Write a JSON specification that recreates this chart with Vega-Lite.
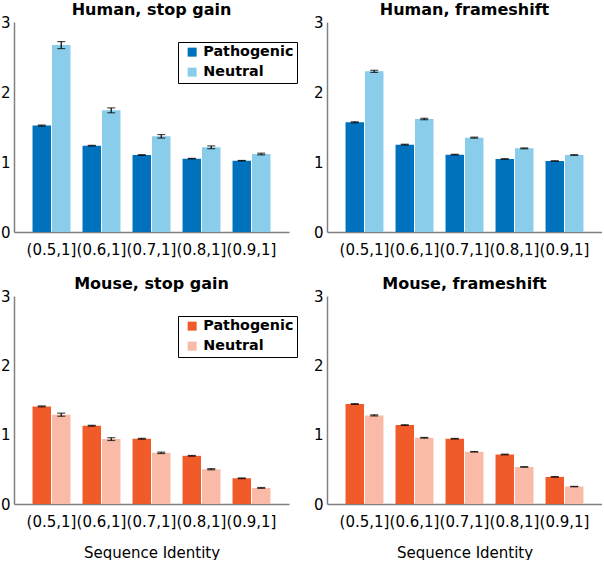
{
  "$schema": "https://vega.github.io/schema/vega-lite/v6.json",
  "padding": {"left": 0, "top": 2, "right": 0, "bottom": 0},
  "background": "white",
  "datasets": {
    "d": [
      {"panel": "hs", "cat": "(0.5,1]", "grp": "Pathogenic", "v": 1.52, "e": 0.008},
      {"panel": "hs", "cat": "(0.5,1]", "grp": "Neutral", "v": 2.67, "e": 0.05},
      {"panel": "hs", "cat": "(0.6,1]", "grp": "Pathogenic", "v": 1.233, "e": 0.005},
      {"panel": "hs", "cat": "(0.6,1]", "grp": "Neutral", "v": 1.738, "e": 0.035},
      {"panel": "hs", "cat": "(0.7,1]", "grp": "Pathogenic", "v": 1.10, "e": 0.005},
      {"panel": "hs", "cat": "(0.7,1]", "grp": "Neutral", "v": 1.367, "e": 0.025},
      {"panel": "hs", "cat": "(0.8,1]", "grp": "Pathogenic", "v": 1.048, "e": 0.004},
      {"panel": "hs", "cat": "(0.8,1]", "grp": "Neutral", "v": 1.21, "e": 0.02},
      {"panel": "hs", "cat": "(0.9,1]", "grp": "Pathogenic", "v": 1.019, "e": 0.003},
      {"panel": "hs", "cat": "(0.9,1]", "grp": "Neutral", "v": 1.114, "e": 0.012},

      {"panel": "hf", "cat": "(0.5,1]", "grp": "Pathogenic", "v": 1.567, "e": 0.008},
      {"panel": "hf", "cat": "(0.5,1]", "grp": "Neutral", "v": 2.295, "e": 0.015},
      {"panel": "hf", "cat": "(0.6,1]", "grp": "Pathogenic", "v": 1.248, "e": 0.006},
      {"panel": "hf", "cat": "(0.6,1]", "grp": "Neutral", "v": 1.614, "e": 0.01},
      {"panel": "hf", "cat": "(0.7,1]", "grp": "Pathogenic", "v": 1.105, "e": 0.005},
      {"panel": "hf", "cat": "(0.7,1]", "grp": "Neutral", "v": 1.348, "e": 0.007},
      {"panel": "hf", "cat": "(0.8,1]", "grp": "Pathogenic", "v": 1.043, "e": 0.004},
      {"panel": "hf", "cat": "(0.8,1]", "grp": "Neutral", "v": 1.195, "e": 0.006},
      {"panel": "hf", "cat": "(0.9,1]", "grp": "Pathogenic", "v": 1.014, "e": 0.003},
      {"panel": "hf", "cat": "(0.9,1]", "grp": "Neutral", "v": 1.10, "e": 0.005},

      {"panel": "ms", "cat": "(0.5,1]", "grp": "Pathogenic", "v": 1.408, "e": 0.007},
      {"panel": "ms", "cat": "(0.5,1]", "grp": "Neutral", "v": 1.288, "e": 0.022},
      {"panel": "ms", "cat": "(0.6,1]", "grp": "Pathogenic", "v": 1.129, "e": 0.006},
      {"panel": "ms", "cat": "(0.6,1]", "grp": "Neutral", "v": 0.936, "e": 0.02},
      {"panel": "ms", "cat": "(0.7,1]", "grp": "Pathogenic", "v": 0.941, "e": 0.006},
      {"panel": "ms", "cat": "(0.7,1]", "grp": "Neutral", "v": 0.738, "e": 0.01},
      {"panel": "ms", "cat": "(0.8,1]", "grp": "Pathogenic", "v": 0.695, "e": 0.005},
      {"panel": "ms", "cat": "(0.8,1]", "grp": "Neutral", "v": 0.502, "e": 0.008},
      {"panel": "ms", "cat": "(0.9,1]", "grp": "Pathogenic", "v": 0.371, "e": 0.005},
      {"panel": "ms", "cat": "(0.9,1]", "grp": "Neutral", "v": 0.232, "e": 0.006},

      {"panel": "mf", "cat": "(0.5,1]", "grp": "Pathogenic", "v": 1.442, "e": 0.006},
      {"panel": "mf", "cat": "(0.5,1]", "grp": "Neutral", "v": 1.278, "e": 0.008},
      {"panel": "mf", "cat": "(0.6,1]", "grp": "Pathogenic", "v": 1.138, "e": 0.005},
      {"panel": "mf", "cat": "(0.6,1]", "grp": "Neutral", "v": 0.955, "e": 0.005},
      {"panel": "mf", "cat": "(0.7,1]", "grp": "Pathogenic", "v": 0.941, "e": 0.005},
      {"panel": "mf", "cat": "(0.7,1]", "grp": "Neutral", "v": 0.753, "e": 0.004},
      {"panel": "mf", "cat": "(0.8,1]", "grp": "Pathogenic", "v": 0.714, "e": 0.005},
      {"panel": "mf", "cat": "(0.8,1]", "grp": "Neutral", "v": 0.535, "e": 0.004},
      {"panel": "mf", "cat": "(0.9,1]", "grp": "Pathogenic", "v": 0.391, "e": 0.004},
      {"panel": "mf", "cat": "(0.9,1]", "grp": "Neutral", "v": 0.251, "e": 0.003}
    ]
  },
  "data": {"name": "d"},
  "config": {
    "font": "DejaVu Sans",
    "view": {"stroke": null},
    "axis": {
      "grid": false,
      "ticks": false,
      "domainColor": "#808080",
      "domainWidth": 1.5,
      "labelFont": "DejaVu Sans",
      "labelFontSize": 15,
      "labelColor": "#000000",
      "titleFont": "DejaVu Sans",
      "titleFontSize": 15,
      "titleFontWeight": "normal",
      "titleColor": "#000000"
    },
    "title": {"font": "DejaVu Sans", "fontSize": 16, "fontWeight": "bold", "color": "#000000", "offset": -3, "anchor": "middle"},
    "legend": {
      "orient": "none",
      "legendX": 164,
      "legendY": 20,
      "strokeColor": "#000000",
      "fillColor": "#ffffff",
      "padding": 3,
      "symbolOffset": 4,
      "symbolType": "square",
      "symbolSize": 81,
      "symbolStrokeWidth": 0,
      "labelFont": "DejaVu Sans",
      "labelFontSize": 14.3,
      "labelFontWeight": "bold",
      "labelColor": "#000000",
      "labelOffset": 4,
      "rowPadding": 5,
      "title": null
    }
  },
  "resolve": {"scale": {"color": "independent", "x": "independent", "y": "independent"}, "legend": {"color": "independent"}},
  "spacing": 19,
  "vconcat": [
    {
      "spacing": 15,
      "resolve": {"scale": {"color": "independent", "x": "independent", "y": "independent"}, "legend": {"color": "independent"}},
      "hconcat": [
        {
          "width": 275, "height": 210,
          "title": "Human, stop gain",
          "transform": [{"filter": "datum.panel === 'hs'"}],
          "encoding": {
            "x": {"field": "cat", "type": "nominal", "sort": null, "scale": {"paddingInner": 0, "paddingOuter": 0.25}, "axis": {"title": null, "labelAngle": 0, "labelPadding": 10}},
            "xOffset": {"field": "grp", "type": "nominal", "sort": ["Pathogenic", "Neutral"], "scale": {"paddingInner": 0.05, "paddingOuter": 0.31}},
            "y": {"field": "v", "type": "quantitative", "scale": {"domain": [0, 3], "nice": false}, "axis": {"title": null, "values": [0, 1, 2, 3], "format": "d", "labelPadding": 4}}
          },
          "layer": [
            {"mark": {"type": "bar"}, "encoding": {"color": {"field": "grp", "type": "nominal", "sort": ["Pathogenic", "Neutral"], "scale": {"domain": ["Pathogenic", "Neutral"], "range": ["#0072BD", "#89CDEB"]}}}},
            {"mark": {"type": "errorbar", "color": "#000000", "thickness": 1.2, "ticks": {"size": 8, "thickness": 1.2}}, "encoding": {"yError": {"field": "e"}}}
          ]
        },
        {
          "width": 275, "height": 210,
          "title": "Human, frameshift",
          "transform": [{"filter": "datum.panel === 'hf'"}],
          "encoding": {
            "x": {"field": "cat", "type": "nominal", "sort": null, "scale": {"paddingInner": 0, "paddingOuter": 0.25}, "axis": {"title": null, "labelAngle": 0, "labelPadding": 10}},
            "xOffset": {"field": "grp", "type": "nominal", "sort": ["Pathogenic", "Neutral"], "scale": {"paddingInner": 0.05, "paddingOuter": 0.31}},
            "y": {"field": "v", "type": "quantitative", "scale": {"domain": [0, 3], "nice": false}, "axis": {"title": null, "values": [0, 1, 2, 3], "format": "d", "labelPadding": 4}}
          },
          "layer": [
            {"mark": {"type": "bar"}, "encoding": {"color": {"field": "grp", "type": "nominal", "sort": ["Pathogenic", "Neutral"], "scale": {"domain": ["Pathogenic", "Neutral"], "range": ["#0072BD", "#89CDEB"]}, "legend": null}}},
            {"mark": {"type": "errorbar", "color": "#000000", "thickness": 1.2, "ticks": {"size": 8, "thickness": 1.2}}, "encoding": {"yError": {"field": "e"}}}
          ]
        }
      ]
    },
    {
      "spacing": 15,
      "resolve": {"scale": {"color": "independent", "x": "independent", "y": "independent"}, "legend": {"color": "independent"}},
      "hconcat": [
        {
          "width": 275, "height": 208,
          "title": "Mouse, stop gain",
          "transform": [{"filter": "datum.panel === 'ms'"}],
          "encoding": {
            "x": {"field": "cat", "type": "nominal", "sort": null, "scale": {"paddingInner": 0, "paddingOuter": 0.25}, "axis": {"title": "Sequence Identity", "titlePadding": 16, "labelAngle": 0, "labelPadding": 10}},
            "xOffset": {"field": "grp", "type": "nominal", "sort": ["Pathogenic", "Neutral"], "scale": {"paddingInner": 0.05, "paddingOuter": 0.31}},
            "y": {"field": "v", "type": "quantitative", "scale": {"domain": [0, 3], "nice": false}, "axis": {"title": null, "values": [0, 1, 2, 3], "format": "d", "labelPadding": 4}}
          },
          "layer": [
            {"mark": {"type": "bar"}, "encoding": {"color": {"field": "grp", "type": "nominal", "sort": ["Pathogenic", "Neutral"], "scale": {"domain": ["Pathogenic", "Neutral"], "range": ["#F15A29", "#F9BBA7"]}}}},
            {"mark": {"type": "errorbar", "color": "#000000", "thickness": 1.2, "ticks": {"size": 8, "thickness": 1.2}}, "encoding": {"yError": {"field": "e"}}}
          ]
        },
        {
          "width": 275, "height": 208,
          "title": "Mouse, frameshift",
          "transform": [{"filter": "datum.panel === 'mf'"}],
          "encoding": {
            "x": {"field": "cat", "type": "nominal", "sort": null, "scale": {"paddingInner": 0, "paddingOuter": 0.25}, "axis": {"title": "Sequence Identity", "titlePadding": 16, "labelAngle": 0, "labelPadding": 10}},
            "xOffset": {"field": "grp", "type": "nominal", "sort": ["Pathogenic", "Neutral"], "scale": {"paddingInner": 0.05, "paddingOuter": 0.31}},
            "y": {"field": "v", "type": "quantitative", "scale": {"domain": [0, 3], "nice": false}, "axis": {"title": null, "values": [0, 1, 2, 3], "format": "d", "labelPadding": 4}}
          },
          "layer": [
            {"mark": {"type": "bar"}, "encoding": {"color": {"field": "grp", "type": "nominal", "sort": ["Pathogenic", "Neutral"], "scale": {"domain": ["Pathogenic", "Neutral"], "range": ["#F15A29", "#F9BBA7"]}, "legend": null}}},
            {"mark": {"type": "errorbar", "color": "#000000", "thickness": 1.2, "ticks": {"size": 8, "thickness": 1.2}}, "encoding": {"yError": {"field": "e"}}}
          ]
        }
      ]
    }
  ]
}
